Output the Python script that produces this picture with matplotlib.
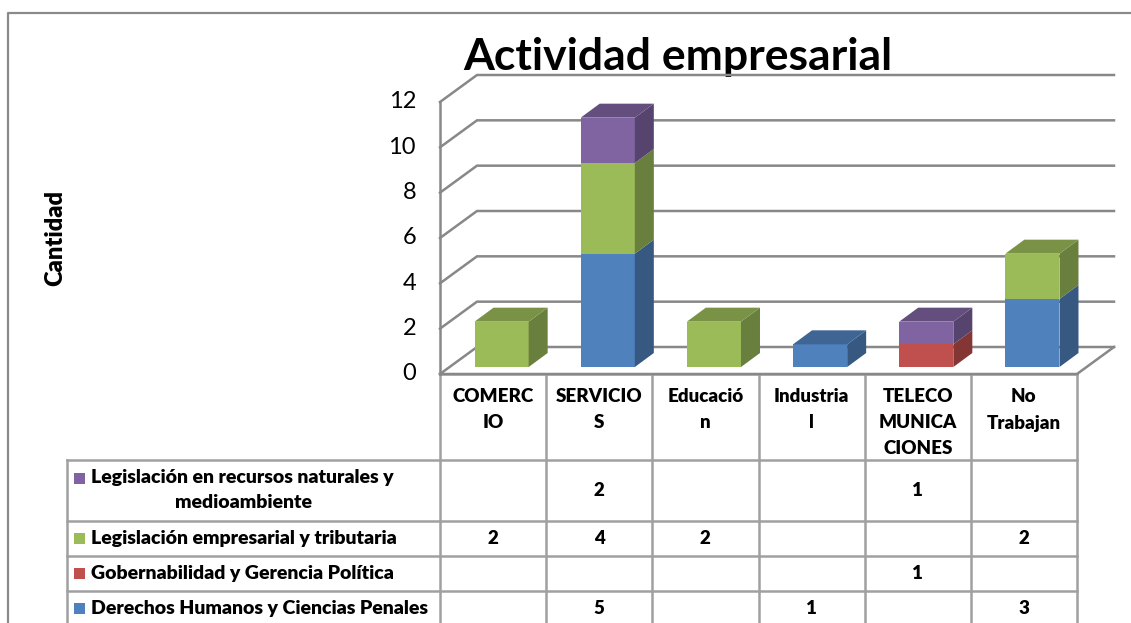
import matplotlib
matplotlib.use('Agg')
import matplotlib.pyplot as plt
from matplotlib.patches import Polygon, Rectangle
import numpy as np

# ---------------- data ----------------
categories = ["COMERCIO", "SERVICIOS", "Educación", "Industrial", "TELECOMUNICACIONES", "No Trabajan"]
category_labels = ["COMERC\nIO", "SERVICIO\nS", "Educació\nn", "Industria\nl", "TELECO\nMUNICA\nCIONES", "No\nTrabajan"]
series_names = ["Derechos Humanos y Ciencias Penales",
                "Gobernabilidad y Gerencia Política",
                "Legislación empresarial y tributaria",
                "Legislación en recursos naturales y\nmedioambiente"]
derechos = [0, 5, 0, 1, 0, 3]
gobernabilidad = [0, 0, 0, 0, 1, 0]
leg_empresarial = [2, 4, 2, 0, 0, 2]
leg_recursos = [0, 2, 0, 0, 1, 0]
series_values = [derechos, gobernabilidad, leg_empresarial, leg_recursos]
colors = ['#4F81BD', '#C0504D', '#9BBB59', '#8064A2']
y_ticks = [0, 2, 4, 6, 8, 10, 12]
title = "Actividad empresarial"
ylabel = "Cantidad"

FONT = 'Lato'
plt.rcParams['font.family'] = [FONT, 'DejaVu Sans']
TW = 'heavy'

W, H = 1131, 623
fig = plt.figure(figsize=(W / 100, H / 100), dpi=100)
fig.patch.set_facecolor('white')

# overlay axes in pixel coords (image orientation)
ov = fig.add_axes([0, 0, 1, 1], zorder=0)
ov.set_xlim(0, W); ov.set_ylim(H, 0); ov.axis('off')

# main chart axes (front plane of bars)
ax_l, ax_r, ax_t, ax_b = 448.5, 1085.5, 95, 367
ax = fig.add_axes([ax_l / W, 1 - ax_b / H, (ax_r - ax_l) / W, (ax_b - ax_t) / H], zorder=1)
ax.patch.set_alpha(0)
n = len(categories)
ax.set_xlim(-0.5, n - 0.5); ax.set_ylim(0, 12); ax.axis('off')

p0 = ax.transData.transform((0, 0)); p1 = ax.transData.transform((1, 1))
ppx, ppy = p1 - p0

def off(px, py):
    return px / ppx, py / ppy

fdx, fdy = off(-8.5, -7)     # floor front plane
bdx, bdy = off(28.5, 20)     # back wall plane
ddx, ddy = off(19, 14)       # bar depth

grid_c = '#888888'
glw = 1.8
x0, x1 = -0.5, n - 0.5
# side wall front edge
ax.plot([x0 + fdx, x0 + fdx], [fdy, 12 + fdy], color=grid_c, lw=glw, clip_on=False, zorder=1)
for k in y_ticks:
    ax.plot([x0 + fdx, x0 + bdx, x1 + bdx], [k + fdy, k + bdy, k + bdy],
            color=grid_c, lw=glw, clip_on=False, zorder=1, solid_joinstyle='miter')
    ax.text(x0 + fdx - 24 / ppx, k + fdy, str(k), ha='right', va='center',
            fontsize=17, color='black', clip_on=False)
# floor
ax.plot([x0 + fdx, x1 + fdx, x1 + bdx], [fdy, fdy, bdy], color=grid_c, lw=glw,
        clip_on=False, zorder=1)

def shade(c, f):
    r, g, b = matplotlib.colors.to_rgb(c)
    return (r * f, g * f, b * f)

xs = np.arange(n)
bw = 0.51
bottoms = np.zeros(n)
totals = np.sum(series_values, axis=0)
for si, (vals, c) in enumerate(zip(series_values, colors)):
    vals = np.array(vals, dtype=float)
    ax.bar(xs, vals, bottom=bottoms, width=bw, color=c, edgecolor='none', zorder=3)
    for i in range(n):
        if vals[i] <= 0:
            continue
        y0, y1 = bottoms[i], bottoms[i] + vals[i]
        xr = xs[i] + bw / 2
        xl = xs[i] - bw / 2
        side = Polygon([(xr, y0), (xr, y1), (xr + ddx, y1 + ddy), (xr + ddx, y0 + ddy)],
                       closed=True, facecolor=shade(c, 0.68), edgecolor='none', zorder=3)
        ax.add_patch(side)
        if abs(y1 - totals[i]) < 1e-9:
            top = Polygon([(xl, y1), (xr, y1), (xr + ddx, y1 + ddy), (xl + ddx, y1 + ddy)],
                          closed=True, facecolor=shade(c, 0.78), edgecolor='none', zorder=3)
            ax.add_patch(top)
    bottoms += vals

# ---------------- titles ----------------
ov.text(678, 70, title, ha='center', va='baseline', fontsize=32, fontweight='bold')
ov.text(55, 238, ylabel, ha='center', va='center', rotation=90, fontsize=17, fontweight=TW)

# ---------------- data table ----------------
fig.canvas.draw()
def to_px(xd, yd):
    d = ax.transData.transform((xd, yd))
    return d[0], H - d[1]

col_edges = [to_px(x0 + i + fdx, fdy)[0] for i in range(n + 1)]
top_y = to_px(0, fdy)[1]
hdr_bottom = 460
row_edges = [hdr_bottom, 521, 556, 591, 626]
left_x = 67
tc = '#a0a0a0'
tlw = 1.8
FS = 13.5
FS_ROW = 14
# horizontal lines
ov.plot([col_edges[0], col_edges[-1]], [top_y, top_y], color=tc, lw=tlw, zorder=0.5)
for y in row_edges:
    ov.plot([left_x, col_edges[-1]], [y, y], color=tc, lw=tlw)
# vertical lines
for x in col_edges:
    ov.plot([x, x], [top_y, H + 5], color=tc, lw=tlw)
ov.plot([left_x, left_x], [hdr_bottom, H + 5], color=tc, lw=tlw)

# header labels
for i, lab in enumerate(category_labels):
    cx = (col_edges[i] + col_edges[i + 1]) / 2
    for j, line in enumerate(lab.split('\n')):
        ov.text(cx, 397 + 26 * j, line, ha='center', va='center', fontsize=FS,
                fontweight=TW)

# rows (top row = last series)
row_order = list(range(len(series_names)))[::-1]
for r, si in enumerate(row_order):
    ytop, ybot = row_edges[r], row_edges[r + 1]
    lines = series_names[si].split('\n')
    cy = (ytop + ybot) / 2
    if len(lines) == 1:
        ly = [cy]
    else:
        ly = [cy - 12.5, cy + 12.5]
    ov.add_patch(Rectangle((74, ly[0] - 5.5), 11, 11, facecolor=colors[si], edgecolor='none'))
    ov.text(91, ly[0], lines[0], ha='left', va='center', fontsize=FS_ROW, fontweight=TW)
    if len(lines) > 1:
        ov.text(244, ly[1], lines[1], ha='center', va='center', fontsize=FS_ROW, fontweight=TW)
    for i in range(n):
        v = series_values[si][i]
        if v:
            cx = (col_edges[i] + col_edges[i + 1]) / 2
            ov.text(cx, cy, str(v), ha='center', va='center', fontsize=FS, fontweight=TW)

# outer chart border
ov.plot([8, 8, W + 5], [H + 5, 13, 13], color='#8a8a8a', lw=1.6)

fig.savefig('out.png', dpi=100, facecolor='white')
